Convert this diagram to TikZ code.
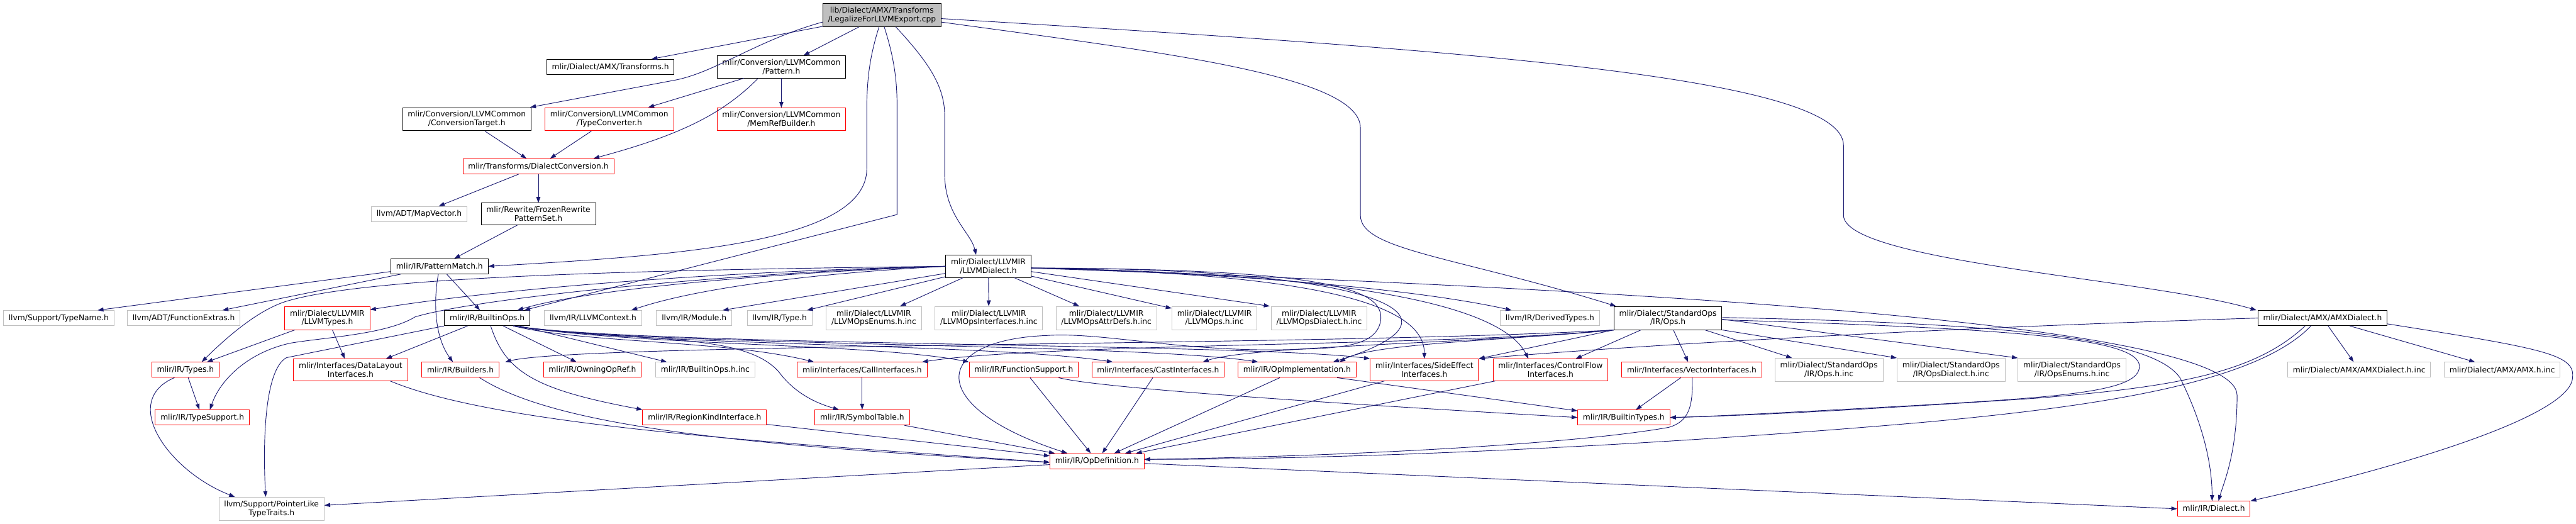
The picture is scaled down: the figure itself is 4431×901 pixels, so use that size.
\documentclass[tikz,border=0pt]{standalone}
\usepackage{fontspec}
\setmainfont{DejaVu Sans}
\usepackage{tikz}
\usetikzlibrary{arrows.meta}
\usepackage{xcolor}
\definecolor{EdgeNavy}{HTML}{191970}
\definecolor{CutRed}{HTML}{FF0000}
\definecolor{ExtGrey}{HTML}{BFBFBF}

\begin{document}
\begin{tikzpicture}[x=1pt,y=-1pt,font=\fontsize{13.3}{15}\selectfont,
    hdrbox/.style={draw=black,line width=1pt,align=center,inner xsep=9pt,inner ysep=6pt,minimum height=26pt},
    cutbox/.style={hdrbox,draw=CutRed},
    extbox/.style={hdrbox,draw=ExtGrey},
    incl/.style={-{Triangle[length=10pt,width=7pt]},color=EdgeNavy,line width=1pt}]
    \useasboundingbox (0,0) rectangle (4431,901);
    \node[hdrbox,fill=ExtGrey] (top) at (1517,26) {lib/Dialect/AMX/Transforms\\/LegalizeForLLVMExport.cpp};
    \node[hdrbox] (amxtr) at (1050,115) {mlir/Dialect/AMX/Transforms.h};
    \node[hdrbox] (pattern) at (1344,115) {mlir/Conversion/LLVMCommon\\/Pattern.h};
    \node[hdrbox] (convtarget) at (803,205) {mlir/Conversion/LLVMCommon\\/ConversionTarget.h};
    \node[cutbox] (typeconv) at (1048,205) {mlir/Conversion/LLVMCommon\\/TypeConverter.h};
    \node[cutbox] (memref) at (1344,205) {mlir/Conversion/LLVMCommon\\/MemRefBuilder.h};
    \node[cutbox] (dialconv) at (926,286) {mlir/Transforms/DialectConversion.h};
    \node[extbox] (mapvec) at (721,368) {llvm/ADT/MapVector.h};
    \node[hdrbox] (frozen) at (926,368) {mlir/Rewrite/FrozenRewrite\\PatternSet.h};
    \node[hdrbox] (patmatch) at (756,458) {mlir/IR/PatternMatch.h};
    \node[hdrbox] (llvmdial) at (1700,458) {mlir/Dialect/LLVMIR\\/LLVMDialect.h};
    \node[extbox] (typename) at (101,547) {llvm/Support/TypeName.h};
    \node[extbox] (funcextras) at (316,547) {llvm/ADT/FunctionExtras.h};
    \node[cutbox] (llvmtypes) at (563,547) {mlir/Dialect/LLVMIR\\/LLVMTypes.h};
    \node[hdrbox] (builtinops) at (838,547) {mlir/IR/BuiltinOps.h};
    \node[extbox] (llvmctx) at (1020,547) {llvm/IR/LLVMContext.h};
    \node[extbox] (module) at (1194,547) {llvm/IR/Module.h};
    \node[extbox] (type) at (1341,547) {llvm/IR/Type.h};
    \node[extbox] (opsenums) at (1503,547) {mlir/Dialect/LLVMIR\\/LLVMOpsEnums.h.inc};
    \node[extbox] (opsintf) at (1701,547) {mlir/Dialect/LLVMIR\\/LLVMOpsInterfaces.h.inc};
    \node[extbox] (opsattr) at (1903,547) {mlir/Dialect/LLVMIR\\/LLVMOpsAttrDefs.h.inc};
    \node[extbox] (llvmopsinc) at (2089,547) {mlir/Dialect/LLVMIR\\/LLVMOps.h.inc};
    \node[extbox] (llvmopsdial) at (2269,547) {mlir/Dialect/LLVMIR\\/LLVMOpsDialect.h.inc};
    \node[extbox] (derived) at (2666,547) {llvm/IR/DerivedTypes.h};
    \node[hdrbox] (stdops) at (2869,547) {mlir/Dialect/StandardOps\\/IR/Ops.h};
    \node[hdrbox] (amxdial) at (3995,547) {mlir/Dialect/AMX/AMXDialect.h};
    \node[cutbox] (types) at (319,636) {mlir/IR/Types.h};
    \node[cutbox] (datalayout) at (603,636) {mlir/Interfaces/DataLayout\\Interfaces.h};
    \node[cutbox] (builders) at (792,636) {mlir/IR/Builders.h};
    \node[cutbox] (owning) at (1019,636) {mlir/IR/OwningOpRef.h};
    \node[extbox] (builtinopsinc) at (1213,636) {mlir/IR/BuiltinOps.h.inc};
    \node[cutbox] (callintf) at (1483,636) {mlir/Interfaces/CallInterfaces.h};
    \node[cutbox] (funcsupport) at (1761,636) {mlir/IR/FunctionSupport.h};
    \node[cutbox] (castintf) at (1992,636) {mlir/Interfaces/CastInterfaces.h};
    \node[cutbox] (opimpl) at (2231,636) {mlir/IR/OpImplementation.h};
    \node[cutbox] (sideeffect) at (2450,636) {mlir/Interfaces/SideEffect\\Interfaces.h};
    \node[cutbox] (controlflow) at (2667,636) {mlir/Interfaces/ControlFlow\\Interfaces.h};
    \node[cutbox] (vectorintf) at (2910,636) {mlir/Interfaces/VectorInterfaces.h};
    \node[extbox] (opsinc) at (3146,636) {mlir/Dialect/StandardOps\\/IR/Ops.h.inc};
    \node[extbox] (opsdialinc) at (3356,636) {mlir/Dialect/StandardOps\\/IR/OpsDialect.h.inc};
    \node[extbox] (opsenumsinc) at (3564,636) {mlir/Dialect/StandardOps\\/IR/OpsEnums.h.inc};
    \node[extbox] (amxdialinc) at (4058,636) {mlir/Dialect/AMX/AMXDialect.h.inc};
    \node[extbox] (amxinc) at (4304,636) {mlir/Dialect/AMX/AMX.h.inc};
    \node[cutbox] (typesupport) at (348,718) {mlir/IR/TypeSupport.h};
    \node[cutbox] (regionkind) at (1212,718) {mlir/IR/RegionKindInterface.h};
    \node[cutbox] (symboltable) at (1483,718) {mlir/IR/SymbolTable.h};
    \node[cutbox] (builtintypes) at (2793,718) {mlir/IR/BuiltinTypes.h};
    \node[cutbox] (opdef) at (1887,793) {mlir/IR/OpDefinition.h};
    \node[extbox] (pointerlike) at (467,875) {llvm/Support/PointerLike\\TypeTraits.h};
    \node[cutbox] (dialect) at (3808,875) {mlir/IR/Dialect.h};

    \draw[incl] (top) -- (amxtr);
    \draw[incl] (top) -- (pattern);
    \draw[incl] ([yshift=-12pt]top.west) .. controls (1300,70) and (1230,125) .. (1160,138) -- (convtarget);
    \draw[incl] ([xshift=-5pt]top.south) .. controls (1495,100) and (1491,140) .. (1491,190) -- (1491,290) .. controls (1491,420) and (1150,440) .. (patmatch.east);
    \draw[incl] ([xshift=4pt]top.south) .. controls (1535,90) and (1543,130) .. (1543,180) -- (1543,369) -- ([xshift=-10pt]builtinops.north east);
    \draw[incl] ([xshift=24pt]top.south) .. controls (1600,110) and (1625,150) .. (1625,200) -- (1625,300) .. controls (1625,370) and (1670,400) .. ([xshift=-21pt]llvmdial.north);
    \draw[incl] ([yshift=-12pt]top.east) .. controls (2000,90) and (2340,130) .. (2340,220) -- (2340,370) .. controls (2340,430) and (2500,440) .. ([xshift=4pt]stdops.north west);
    \draw[incl] ([yshift=-6pt]top.east) .. controls (2500,85) and (3171,130) .. (3171,250) -- (3171,370) .. controls (3171,450) and (3700,480) .. ([xshift=-2pt]amxdial.north west);
    \draw[incl] (pattern) -- (typeconv);
    \draw[incl] (pattern) -- (memref);
    \draw[incl] ([xshift=-40pt]pattern.south) .. controls (1240,200) and (1160,235) .. ([xshift=95pt]dialconv.north);
    \draw[incl] (convtarget) -- (dialconv);
    \draw[incl] (typeconv) -- (dialconv);
    \draw[incl] (dialconv) -- (mapvec);
    \draw[incl] (dialconv) -- (frozen);
    \draw[incl] (frozen) -- (patmatch);
    \draw[incl] ([yshift=-9pt]patmatch.west) -- ([xshift=67pt]typename.north);
    \draw[incl] (patmatch) -- (funcextras);
    \draw[incl] ([xshift=-2pt]patmatch.south) .. controls (745,520) and (748,580) .. ([xshift=-13pt]builders.north);
    \draw[incl] (patmatch) -- (builtinops);

    \draw[incl] (llvmdial) -- ([xshift=-16pt]module.north east);
    \draw[incl] (llvmdial) -- ([xshift=-9pt]type.north east);
    \draw[incl] (llvmdial) -- (opsenums);
    \draw[incl] (llvmdial) -- (opsintf);
    \draw[incl] (llvmdial) -- (opsattr);
    \draw[incl] (llvmdial) -- (llvmopsinc);
    \draw[incl] ([yshift=-9pt]llvmdial.east) -- ([xshift=-85pt]llvmopsdial.north);
    \draw[incl] ([yshift=-3pt]llvmdial.east) .. controls (2150,470) and (2450,500) .. ([xshift=-66pt]derived.north);
    \draw[incl] ([yshift=-3pt]llvmdial.east) .. controls (2250,470) and (2450,520) .. (sideeffect.north);
    \draw[incl] ([yshift=-3pt]llvmdial.east) .. controls (2300,470) and (2580,520) .. ([xshift=-38pt]controlflow.north);
    \draw[incl] ([yshift=-3pt]llvmdial.east) .. controls (2350,460) and (2560,540) .. ([xshift=62pt]opimpl.north);
    \draw[incl] ([yshift=-3pt]llvmdial.east) .. controls (2300,462) and (2380,500) .. (2375,550) .. controls (2370,590) and (2320,598) .. (2250,600) .. controls (2050,610) and (1900,570) .. (1800,577) .. controls (1600,585) and (1590,700) .. ([xshift=-51pt]opdef.north);
    \draw[incl] ([yshift=-3pt]llvmdial.east) .. controls (2900,500) and (3848,560) .. (3848,680) .. controls (3848,780) and (3825,830) .. ([xshift=8pt]dialect.north);
    \draw[incl] (llvmdial.west) .. controls (1300,465) and (900,490) .. ([yshift=-6pt]llvmtypes.north east);
    \draw[incl] (llvmdial.west) .. controls (1000,465) and (620,480) .. (493,518) .. controls (450,531) and (400,570) .. ([xshift=28pt]types.north);
    \draw[incl] (llvmdial.west) .. controls (1300,466) and (830,510) .. (714,545) .. controls (665,575) and (560,580) .. (500,590) .. controls (430,605) and (380,650) .. ([xshift=13pt]typesupport.north);
    \draw[incl] (llvmdial.west) .. controls (1300,470) and (1000,500) .. ([xshift=-22pt]builtinops.north east);
    \draw[incl] (llvmdial.west) .. controls (1400,470) and (1200,495) .. ([xshift=-18pt]llvmctx.north east);

    \draw[incl] (builtinops) -- ([xshift=61pt]datalayout.north);
    \draw[incl] (builtinops) -- (owning);
    \draw[incl] (builtinops) -- ([xshift=-66pt]builtinopsinc.north);
    \draw[incl] ([xshift=6pt]builtinops.south) .. controls (870,640) and (920,670) .. (regionkind.north west);
    \draw[incl] (builtinops.south west) -- (493,615) .. controls (455,635) and (452,760) .. ([xshift=-10pt]pointerlike.north);
    \draw[incl] ([xshift=45pt]builtinops.south) .. controls (1000,590) and (1250,585) .. ([xshift=-83pt]callintf.north);
    \draw[incl] ([xshift=45pt]builtinops.south) .. controls (1100,595) and (1500,590) .. (funcsupport.north west);
    \draw[incl] ([xshift=45pt]builtinops.south) .. controls (1100,595) and (1700,590) .. ([xshift=-78pt]castintf.north);
    \draw[incl] ([xshift=45pt]builtinops.south) .. controls (1100,595) and (1950,590) .. ([xshift=-67pt]opimpl.north);
    \draw[incl] ([xshift=45pt]builtinops.south) .. controls (1100,595) and (2150,590) .. (sideeffect.north west);
    \draw[incl] ([xshift=45pt]builtinops.south) .. controls (1100,590) and (1280,570) .. (1340,640) .. controls (1370,680) and (1410,695) .. ([xshift=-40pt]symboltable.north);

    \draw[incl] (llvmtypes) -- (types);
    \draw[incl] (llvmtypes) -- ([xshift=-10pt]datalayout.north);
    \draw[incl] (types) -- ([xshift=-5pt]typesupport.north);
    \draw[incl] ([xshift=-19pt]types.south) .. controls (205,690) and (290,810) .. ([xshift=-63pt]pointerlike.north);
    \draw[incl] (callintf) -- (symboltable);
    \draw[incl] (regionkind) -- (opdef);
    \draw[incl] (symboltable) -- (opdef);
    \draw[incl] ([xshift=68pt]datalayout.south) .. controls (850,730) and (1300,760) .. ([yshift=-2pt]opdef.west);
    \draw[incl] ([xshift=33pt]builders.south) .. controls (950,730) and (1250,765) .. ([yshift=-2pt]opdef.west);
    \draw[incl] (funcsupport) -- (opdef);
    \draw[incl] ([xshift=60pt]funcsupport.south) .. controls (1900,670) and (2400,700) .. (builtintypes.west);
    \draw[incl] (castintf) -- (opdef);
    \draw[incl] (opimpl) -- (opdef);
    \draw[incl] ([xshift=69pt]opimpl.south) -- ([yshift=-2pt]builtintypes.north west);
    \draw[incl] (sideeffect) -- (opdef);
    \draw[incl] (controlflow) -- (opdef);
    \draw[incl] (vectorintf) -- ([xshift=21pt]builtintypes.north);
    \draw[incl] ([xshift=1pt]vectorintf.south) .. controls (2912,700) and (2905,725) .. (2870,735) .. controls (2700,765) and (2300,785) .. ([yshift=3pt]opdef.east);
    \draw[incl] ([yshift=-6pt]opdef.west) -- ([yshift=6pt]pointerlike.east);
    \draw[incl] ([yshift=-4pt]opdef.east) -- (dialect.west);

    \draw[incl] (stdops) -- (controlflow);
    \draw[incl] (stdops) -- (vectorintf);
    \draw[incl] (stdops) -- (opsinc);
    \draw[incl] (stdops.south east) -- (opsdialinc.north west);
    \draw[incl] ([yshift=-2pt]stdops.east) -- (opsenumsinc.north west);
    \draw[incl] (stdops.south west) -- (sideeffect.north east);
    \draw[incl] (stdops.south west) .. controls (2600,585) and (2360,590) .. ([xshift=73pt]opimpl.north);
    \draw[incl] (stdops.south west) .. controls (2550,590) and (2150,595) .. ([xshift=77pt]castintf.north);
    \draw[incl] (stdops.south west) .. controls (2500,595) and (1800,590) .. ([xshift=103pt]callintf.north);
    \draw[incl] (stdops.south west) .. controls (2300,595) and (1000,590) .. ([xshift=77pt]builders.north);
    \draw[incl] ([yshift=1pt]stdops.east) .. controls (3400,555) and (3700,575) .. (3750,650) .. controls (3790,730) and (3805,800) .. ([xshift=-3pt]dialect.north);
    \draw[incl] ([yshift=-3pt]stdops.east) .. controls (3450,565) and (3680,580) .. (3680,630) .. controls (3680,672) and (3560,682) .. (3300,697) .. controls (3100,708) and (2950,716) .. (builtintypes.east);

    \draw[incl] (amxdial) -- (amxdialinc);
    \draw[incl] (amxdial) -- (amxinc);
    \draw[incl] (amxdial.west) .. controls (3300,565) and (2800,595) .. (sideeffect.north east);
    \draw[incl] ([xshift=-30pt]amxdial.south) .. controls (3880,640) and (3750,665) .. (3500,685) .. controls (3200,705) and (3000,715) .. (builtintypes.east);
    \draw[incl] ([xshift=-20pt]amxdial.south) .. controls (3880,660) and (3600,700) .. (3300,727) .. controls (2800,770) and (2300,790) .. ([yshift=3pt]opdef.east);
    \draw[incl] ([yshift=-10pt]amxdial.east) .. controls (4380,600) and (4430,610) .. (4425,650) .. controls (4420,720) and (4100,810) .. (dialect.north east);
  \end{tikzpicture}
\end{document}
